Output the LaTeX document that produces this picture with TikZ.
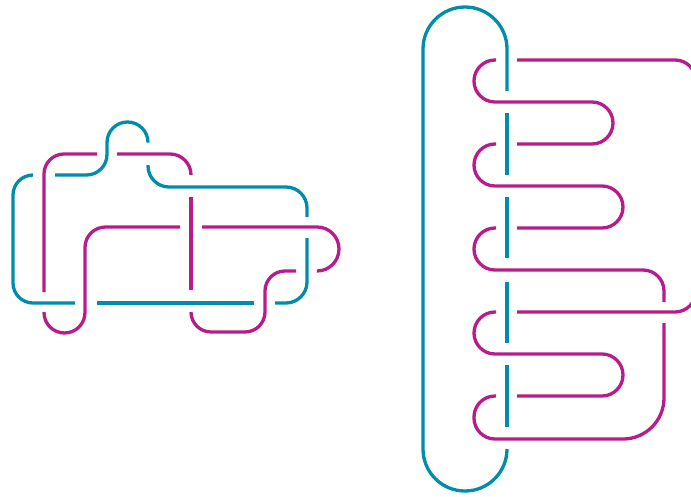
\documentclass[tikz,border=0pt]{standalone}
\usepackage{tikz}

\definecolor{knotblue}{RGB}{0,140,170}
\definecolor{knotpink}{RGB}{184,28,140}

\begin{document}
\begin{tikzpicture}[x=1pt, y=-1pt,
  bluestrand/.style={knotblue, line width=3.3pt},
  pinkstrand/.style={knotpink, line width=3.3pt}]

  \useasboundingbox (0,0) rectangle (691,496);

  % Left link: blue strand
  \draw[bluestrand, rounded corners=21] (148,165) -- (148,187) -- (307,187) -- (307,217);
  \draw[bluestrand, rounded corners=21] (307,238) -- (307,303) -- (275,303);
  \draw[bluestrand] (254,303) -- (97,303);
  \draw[bluestrand, rounded corners=20] (75,303) -- (13,303) -- (13,175) -- (33,175);
  \draw[bluestrand, rounded corners=20.5] (55,175) -- (107,175) -- (107,122) -- (148,122) -- (148,142);

  % Left link: magenta strand
  \draw[pinkstrand, rounded corners=20] (97,154) -- (44,154) -- (44,292);
  \draw[pinkstrand, rounded corners=20.5] (44,312) -- (44,333) -- (85,333) -- (85,227) -- (180,227);
  \draw[pinkstrand, rounded corners=22] (202,227) -- (339,227) -- (339,271) -- (318,271);
  \draw[pinkstrand, rounded corners=20] (296,271) -- (265,271) -- (265,332) -- (191,332) -- (191,312);
  \draw[pinkstrand] (191,290) -- (191,197);
  \draw[pinkstrand, rounded corners=21] (191,175) -- (191,154) -- (117,154);

  % Right link: blue loop
  \draw[bluestrand] (507,91) -- (507,49) arc[start angle=0, end angle=-180, radius=42]
    -- (423,449) arc[start angle=180, end angle=0, radius=42];
  \foreach \ya/\yb in {113/175, 197/258, 282/343, 365/427}
    \draw[bluestrand] (507,\ya) -- (507,\yb);

  % Right link: magenta strand
  \draw[pinkstrand, rounded corners=21] (517,60) -- (696,60) -- (696,312) -- (517,312);
  \draw[pinkstrand, rounded corners=21] (496,60) -- (474,60) -- (474,102) -- (613,102) -- (613,144) -- (517,144);
  \draw[pinkstrand, rounded corners=21] (496,144) -- (474,144) -- (474,186) -- (623,186) -- (623,228) -- (517,228);
  \draw[pinkstrand, rounded corners=21] (496,228) -- (474,228) -- (474,270) -- (664,270) -- (664,302);
  \draw[pinkstrand, rounded corners=21] (496,312) -- (474,312) -- (474,354) -- (623,354) -- (623,396) -- (517,396);
  \draw[pinkstrand, rounded corners=41] (664,323) -- (664,439) -- (570,439);
  \draw[pinkstrand, rounded corners=21] (570,439) -- (474,439) -- (474,396) -- (496,396);

\end{tikzpicture}
\end{document}
